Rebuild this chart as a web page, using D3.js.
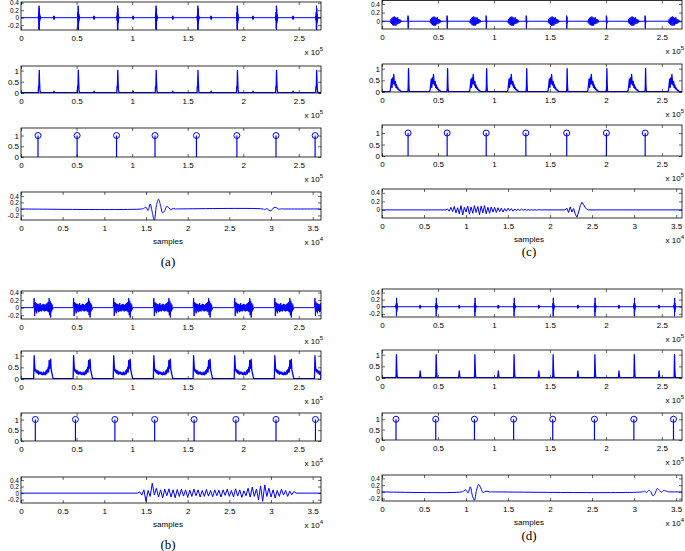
<!DOCTYPE html>
<html>
<head>
<meta charset="utf-8">
<script src="https://cdn.jsdelivr.net/npm/d3@7"></script>
<style>
  body { margin: 0; background: #fff; }
  svg { display: block; }
</style>
</head>
<body>
<div id="chart"></div>
<script>
// ---- data (x positions of events in units of 1e5 samples) ----

// panel (a)
var aS1Onsets = [0.155, 0.507, 0.862, 1.208, 1.584, 1.939, 2.291, 2.652];
var aS2Onsets = [0.292, 0.653, 1.005, 1.361, 1.706, 2.083, 2.444];
var aS1Wave = [0, 0.05, -0.08, 0.15, -0.3, 0.32, -0.33, 0.25, -0.15, 0.1, -0.08, 0.05, -0.03, 0.02, 0];
var aS2Wave = [0, 0.03, -0.04, 0.05, -0.05, 0.03, -0.02, 0];
var aS1Env = [0.02, 0.3, 0.25, 1.0, 0.5, 0.15, 0.05, 0.02];
var aS2Env = [0.02, 0.06, 0.08, 0.04, 0.02];
var aPeaks = [0.153, 0.505, 0.860, 1.206, 1.579, 1.943, 2.295, 2.647];
var aBeat1 = [0, 0.02, 0.05, -0.05, 0.15, -0.1, -0.35, 0.1, 0.3, 0.1, -0.12, -0.05, 0.08, 0.03, -0.02, 0.01, 0, 0];
var aBeat2 = [0, -0.02, 0.01, -0.04, -0.06, 0.02, 0.05, 0.02, -0.01, 0.005, 0];

// panel (b)
var bOnsets = [0.114, 0.469, 0.830, 1.191, 1.549, 1.919, 2.280, 2.641];
var bWave = [0, 0.25, -0.22, 0.15, -0.1, 0.12, -0.15, 0.1, -0.08, 0.1, -0.12, 0.08, -0.1, 0.12, -0.09, 0.07, -0.1, 0.08, -0.07, 0.1,
             -0.08, 0.09, -0.1, 0.07, -0.09, 0.1, -0.08, 0.12, -0.1, 0.15, -0.12, 0.25, -0.2, 0.18, -0.26, 0.12, -0.1, 0.08, -0.05, 0];
var bEnv = [0.02, 1.0, 0.6, 0.35, 0.4, 0.3, 0.38, 0.25, 0.3, 0.35, 0.2, 0.28, 0.3, 0.22, 0.25, 0.3, 0.2, 0.25, 0.18, 0.22,
            0.3, 0.2, 0.25, 0.18, 0.3, 0.35, 0.22, 0.4, 0.3, 0.5, 0.3, 0.8, 0.45, 0.6, 0.85, 0.4, 0.3, 0.2, 0.1, 0.02];
var bPeaks = [0.129, 0.490, 0.845, 1.203, 1.558, 1.934, 2.295, 2.650];
var bBeat = [0, 0.04, -0.06, 0.1, -0.25, 0.08, -0.1, 0.3, -0.05, 0.15, -0.12, 0.1, -0.15, 0.12, -0.08, 0.13, -0.12, 0.1, -0.14, 0.11,
             -0.1, 0.12, -0.09, 0.1, -0.13, 0.09, -0.1, 0.12, -0.08, 0.1, -0.12, 0.08, -0.1, 0.11, -0.09, 0.08, -0.11, 0.1, -0.08, 0.09,
             -0.12, 0.1, -0.07, 0.12, -0.1, 0.08, -0.12, 0.13, -0.09, 0.1, -0.13, 0.07, -0.08, 0.15, -0.12, 0.18, -0.1, 0.12, -0.2, 0.22,
             -0.25, 0.25, -0.1, 0.15, -0.12, 0.1, -0.15, 0.08, -0.1, 0.12, -0.06, 0.08, -0.1, 0.06, -0.05, 0.05, 0];

// panel (c)
var cMurmurOnsets = [0.07, 0.425, 0.78, 1.12, 1.48, 1.835, 2.195, 2.555];
var cClickOnsets = [0.231, 0.580, 0.929, 1.287, 1.648, 2.003, 2.349];
var cMurmurWave = [0, -0.03, 0.05, -0.06, 0.08, -0.09, 0.1, -0.1, 0.11, -0.1, 0.09, -0.1, 0.08, -0.07, 0.09, -0.06, 0.05, -0.05, 0.04, -0.03, 0.02, -0.02, 0];
var cClickWave = [0, 0.13, -0.17, 0.1, -0.05, 0];
var cMurmurEnv = [0.02, 0.1, 0.3, 0.55, 0.2, 0.6, 0.35, 0.75, 0.4, 0.3, 0.45, 0.2, 0.3, 0.15, 0.2, 0.1, 0.12, 0.06, 0.08, 0.04, 0.03, 0.02, 0.02];
var cClickEnv = [0.02, 0.2, 1.0, 0.3, 0.05, 0.02];
var cPeaks = [0.233, 0.582, 0.931, 1.285, 1.650, 2.005, 2.351];
var cBeat1 = [0, 0.02, -0.03, 0.06, -0.04, 0.08, -0.07, 0.05, -0.09, 0.1, -0.12, 0.06, -0.05, 0.09, -0.1, 0.07, -0.08, 0.1, -0.06, 0.08,
              -0.11, 0.09, -0.07, 0.1, -0.09, 0.06, -0.08, 0.07, -0.05, 0.06, -0.06, 0.05, -0.04, 0.04, -0.05, 0.03, -0.03, 0.04, -0.02, 0.03,
              -0.03, 0.02, -0.02, 0.02, -0.015, 0.02, -0.01, 0.015, -0.01, 0.01, -0.01, 0.008, -0.008, 0.005, -0.005, 0.003, 0, 0];
var cBeat2 = [0, 0.04, -0.06, 0.07, -0.05, 0.03, -0.1, -0.17, -0.05, 0.1, 0.18, 0.12, 0.05, 0.01, 0];

// panel (d)
var dS1Onsets = [0.123, 0.478, 0.824, 1.174, 1.523, 1.896, 2.248, 2.607];
var dS2Onsets = [0.335, 0.684, 1.033, 1.395, 1.744, 2.111, 2.469];
var dS1Wave = [0, 0.05, -0.05, 0.1, -0.27, 0.25, -0.15, 0.1, -0.08, 0.05, -0.03, 0.02, 0];
var dS2Wave = [0, 0.03, -0.05, 0.05, -0.04, 0.03, -0.02, 0.01, 0];
var dS1Env = [0.02, 0.1, 1.0, 0.4, 0.1, 0.02];
var dS2Env = [0.02, 0.12, 0.3, 0.15, 0.05, 0.02];
var dPeaks = [0.125, 0.480, 0.826, 1.176, 1.525, 1.898, 2.250, 2.604];
var dBeat1 = [0, 0.03, 0.06, -0.03, 0.15, -0.1, -0.25, 0.05, 0.22, 0.12, -0.02, 0.01, 0.02, 0, 0];
var dBeat2 = [0, 0.02, -0.02, 0.05, 0, -0.12, -0.05, 0.1, 0.05, -0.01, 0.04, 0.03, 0.005, 0];

// tick values
var xTicksLong = [0, 0.5, 1, 1.5, 2, 2.5];          // x 1e5
var xTicksShort = [0, 0.5, 1, 1.5, 2, 2.5, 3, 3.5]; // x 1e4
var yTicksWave = [-0.2, 0, 0.2, 0.4];
var yTicksUnit = [0, 0.5, 1];

// ---- layout ----
var W = 685, H = 551;
var blue = "#0000ff";
var sans = "'Liberation Sans', Arial, sans-serif";

var svg = d3.select("#chart").append("svg")
  .attr("width", W).attr("height", H);

var defs = svg.append("defs");
var clipId = 0;

// turns event onsets + a sampled shape into one sorted polyline
function train(groups, end, base) {
  var pts = [[0, base]];
  groups.forEach(function (g) {
    g.onsets.forEach(function (o) {
      g.values.forEach(function (v, i) { pts.push([o * 1e5 + i * g.step, v]); });
    });
  });
  pts.push([end, base]);
  pts.sort(function (a, b) { return a[0] - b[0]; });
  return pts;
}

// sampled segments on a flat line
function segments(list, end) {
  var pts = [[0, 0]];
  list.forEach(function (s) {
    s.values.forEach(function (v, i) { pts.push([s.start + i * s.step, v]); });
  });
  pts.push([end, 0]);
  return pts;
}

function makeAxes(x0, x1, y0, y1, xmax, ydom, xticks, yticks, expo, yfont) {
  var x = d3.scaleLinear().domain([0, xmax]).range([x0, x1]);
  var y = d3.scaleLinear().domain(ydom).range([y1, y0]);
  var g = svg.append("g");
  var id = "clip" + (clipId++);
  defs.append("clipPath").attr("id", id)
    .append("rect").attr("x", x0).attr("y", y0).attr("width", x1 - x0).attr("height", y1 - y0);
  var plot = g.append("g").attr("clip-path", "url(#" + id + ")");

  var scale = Math.pow(10, expo);
  var xt = xticks.map(function (t) { return t * scale; });
  var yt = yticks.filter(function (t) { return t >= ydom[0] && t <= ydom[1]; });

  function style(a, fs) {
    a.select(".domain").remove();
    a.attr("font-size", fs).attr("font-family", sans);
    a.selectAll("line").attr("stroke", "#000").attr("stroke-width", 0.6);
    return a;
  }

  style(g.append("g").attr("transform", "translate(0," + y1 + ")")
    .call(d3.axisBottom(x).tickValues(xt).tickSizeInner(-3).tickSizeOuter(0).tickPadding(5)
      .tickFormat(function (d) { return String(+(d / scale).toFixed(2)); })), 8);
  style(g.append("g").attr("transform", "translate(0," + y0 + ")")
    .call(d3.axisTop(x).tickValues(xt).tickSizeInner(-3).tickSizeOuter(0).tickFormat("")), 8);
  style(g.append("g").attr("transform", "translate(" + x0 + ",0)")
    .call(d3.axisLeft(y).tickValues(yt).tickSizeInner(-3).tickSizeOuter(0).tickPadding(2)
      .tickFormat(function (d) { return String(d); })), yfont);
  style(g.append("g").attr("transform", "translate(" + x1 + ",0)")
    .call(d3.axisRight(y).tickValues(yt).tickSizeInner(-3).tickSizeOuter(0).tickFormat("")), 8);

  g.append("rect").attr("x", x0).attr("y", y0).attr("width", x1 - x0).attr("height", y1 - y0)
    .attr("fill", "none").attr("stroke", "#000").attr("stroke-width", 0.8);

  // "x 10^n" multiplier
  var t = g.append("text").attr("x", x1 + 2).attr("y", y1 + 25)
    .attr("text-anchor", "end").attr("font-size", 8).attr("font-family", sans);
  t.append("tspan").text("x 10");
  t.append("tspan").attr("dy", -4).attr("font-size", 6).text(expo);

  return { x: x, y: y, plot: plot };
}

function drawLine(ax, pts, curve, width) {
  ax.plot.append("path")
    .attr("d", d3.line().x(function (d) { return ax.x(d[0]); }).y(function (d) { return ax.y(d[1]); }).curve(curve)(pts))
    .attr("fill", "none").attr("stroke", blue).attr("stroke-width", width).attr("stroke-linejoin", "round");
}

function drawStems(ax, peaks) {
  peaks.forEach(function (p) {
    ax.plot.append("line")
      .attr("x1", ax.x(p * 1e5)).attr("x2", ax.x(p * 1e5))
      .attr("y1", ax.y(0)).attr("y2", ax.y(1))
      .attr("stroke", blue).attr("stroke-width", 1.2);
    ax.plot.append("circle")
      .attr("cx", ax.x(p * 1e5)).attr("cy", ax.y(1)).attr("r", 3)
      .attr("fill", "none").attr("stroke", blue).attr("stroke-width", 1);
  });
}

function panel(cfg) {
  var r = cfg.rows;
  var a1 = makeAxes(cfg.x0, cfg.x1, r[0][0], r[0][1], cfg.longMax, cfg.ydoms[0], xTicksLong, yTicksWave, 5, 6.5);
  drawLine(a1, cfg.wave, d3.curveLinear, 1);
  var a2 = makeAxes(cfg.x0, cfg.x1, r[1][0], r[1][1], cfg.longMax, cfg.ydoms[1], xTicksLong, yTicksUnit, 5, 8);
  drawLine(a2, cfg.env, d3.curveLinear, 1.3);
  var a3 = makeAxes(cfg.x0, cfg.x1, r[2][0], r[2][1], cfg.longMax, cfg.ydoms[2], xTicksLong, yTicksUnit, 5, 8);
  drawStems(a3, cfg.peaks);
  var a4 = makeAxes(cfg.x0, cfg.x1, r[3][0], r[3][1], cfg.shortMax, cfg.ydoms[3], xTicksShort, yTicksWave, 4, 6.5);
  drawLine(a4, cfg.beat, cfg.curve, 1);

  var cx = (cfg.x0 + cfg.x1) / 2 - 3;
  svg.append("text").attr("x", cx).attr("y", r[3][1] + 24)
    .attr("text-anchor", "middle").attr("font-size", 8).attr("font-family", sans).text("samples");
  svg.append("text").attr("x", cx).attr("y", cfg.labelY)
    .attr("text-anchor", "middle").attr("font-size", 13).attr("font-family", "'Liberation Serif', 'Times New Roman', serif")
    .text(cfg.label);
}

var L = { x0: 21, x1: 321, longMax: 270000, shortMax: 36000 };
var R = { x0: 382, x1: 682, longMax: 268000, shortMax: 35700 };

panel({
  x0: L.x0, x1: L.x1, longMax: L.longMax, shortMax: L.shortMax,
  rows: [[2, 30], [66, 93], [128, 157], [192, 220]], labelY: 266, label: "(a)",
  ydoms: [[-0.33, 0.42], [0, 1.2], [0, 1.35], [-0.34, 0.52]],
  wave: train([{ onsets: aS1Onsets, values: aS1Wave, step: 150 }, { onsets: aS2Onsets, values: aS2Wave, step: 150 }], L.longMax, 0),
  env: train([{ onsets: aS1Onsets, values: aS1Env, step: 300 }, { onsets: aS2Onsets, values: aS2Env, step: 300 }], L.longMax, 0.02),
  peaks: aPeaks,
  beat: segments([{ start: 14500, step: 250, values: aBeat1 }, { start: 29000, step: 250, values: aBeat2 }], L.shortMax),
  curve: d3.curveCatmullRom
});

panel({
  x0: L.x0, x1: L.x1, longMax: L.longMax, shortMax: L.shortMax,
  rows: [[291, 319], [351, 379], [413, 441], [477, 503]], labelY: 549, label: "(b)",
  ydoms: [[-0.3, 0.44], [0, 1.2], [0, 1.3], [-0.3, 0.49]],
  wave: train([{ onsets: bOnsets, values: bWave, step: 450 }], L.longMax, 0),
  env: train([{ onsets: bOnsets, values: bEnv, step: 450 }], L.longMax, 0.02),
  peaks: bPeaks,
  beat: segments([{ start: 14000, step: 250, values: bBeat }], L.shortMax),
  curve: d3.curveLinear
});

panel({
  x0: R.x0, x1: R.x1, longMax: R.longMax, shortMax: R.shortMax,
  rows: [[0.5, 29], [64, 92], [125, 156], [189, 218]], labelY: 256, label: "(c)",
  ydoms: [[-0.18, 0.48], [0, 1.2], [0, 1.35], [-0.19, 0.49]],
  wave: train([{ onsets: cMurmurOnsets, values: cMurmurWave, step: 500 }, { onsets: cClickOnsets, values: cClickWave, step: 150 }], R.longMax, 0),
  env: train([{ onsets: cMurmurOnsets, values: cMurmurEnv, step: 500 }, { onsets: cClickOnsets, values: cClickEnv, step: 300 }], R.longMax, 0.02),
  peaks: cPeaks,
  beat: segments([{ start: 7600, step: 200, values: cBeat1 }, { start: 21800, step: 200, values: cBeat2 }], R.shortMax),
  curve: d3.curveLinear
});

panel({
  x0: R.x0, x1: R.x1, longMax: R.longMax, shortMax: R.shortMax,
  rows: [[289, 317], [350, 378], [413, 440], [475, 501]], labelY: 540, label: "(d)",
  ydoms: [[-0.29, 0.5], [0, 1.2], [0, 1.3], [-0.27, 0.5]],
  wave: train([{ onsets: dS1Onsets, values: dS1Wave, step: 150 }, { onsets: dS2Onsets, values: dS2Wave, step: 200 }], R.longMax, 0),
  env: train([{ onsets: dS1Onsets, values: dS1Env, step: 300 }, { onsets: dS2Onsets, values: dS2Env, step: 300 }], R.longMax, 0.02),
  peaks: dPeaks,
  beat: segments([{ start: 9500, step: 250, values: dBeat1 }, { start: 31000, step: 250, values: dBeat2 }], R.shortMax),
  curve: d3.curveCatmullRom
});
</script>
</body>
</html>
